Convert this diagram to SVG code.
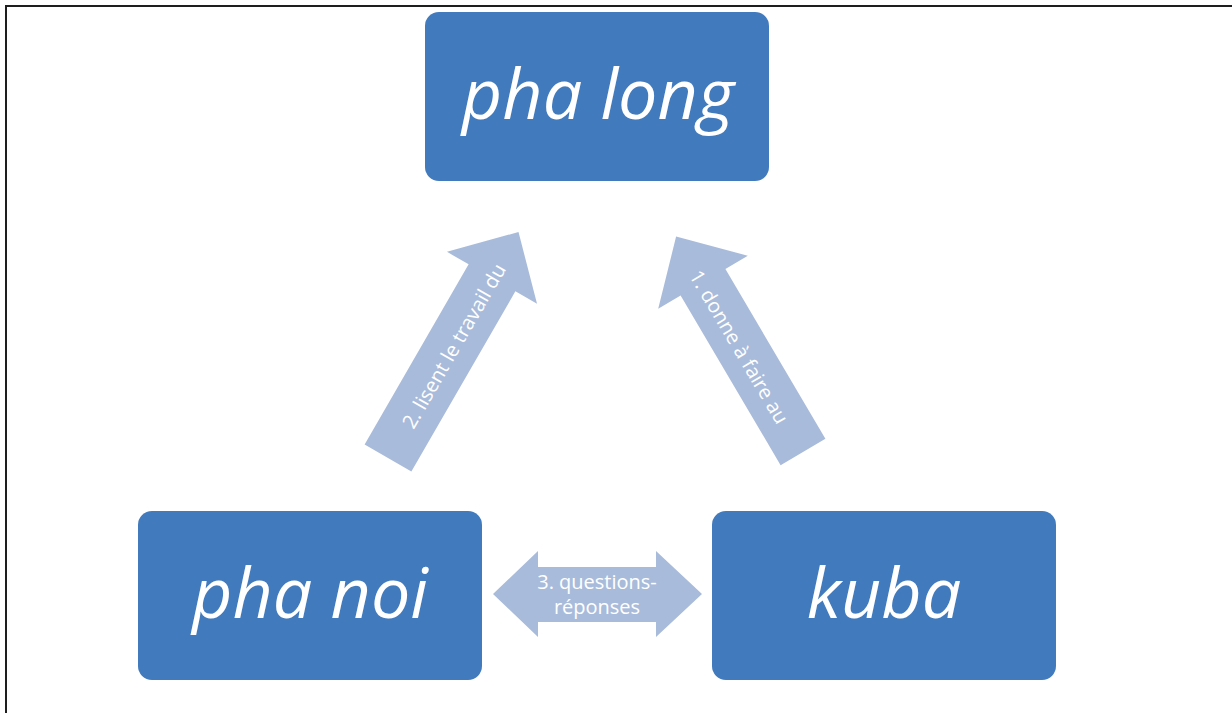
<svg xmlns="http://www.w3.org/2000/svg" width="1232" height="713" viewBox="0 0 1232 713">
<style>
.box{fill:#417abd}
.big{font-family:"Open Sans","Liberation Sans",sans-serif;font-style:italic;font-size:70px;fill:#fff;text-anchor:middle}
.arr{fill:#a9bbda}
.lbl{font-family:"Open Sans","Liberation Sans",sans-serif;font-size:20px;fill:#fff;text-anchor:middle}
</style>
<rect width="1232" height="713" fill="#fff"/>
<path d="M6 713 V6 H1232" fill="none" stroke="#1e1e1e" stroke-width="2"/>
<g id="connectors">
<g id="arrow-lisent">
<path class="arr" transform="translate(388,458) rotate(-60)" d="M0,-27 H208 V-52 L261,0 L208,52 V27 H0 Z"/>
<text class="lbl" transform="translate(454,346) rotate(-60)" y="7">2. lisent le travail du</text>
</g>
<g id="arrow-donne">
<path class="arr" transform="translate(803,452) rotate(-120.5)" d="M0,-26 H197 V-52 L250,0 L197,52 V26 H0 Z"/>
<text class="lbl" transform="translate(739,347) rotate(59.5)" y="7">1. donne à faire au</text>
</g>
<g id="arrow-questions">
<path class="arr" d="M493,594 L538,551 V567 H656 V551 L702,594 L656,637 V622 H538 V637 Z"/>
<text class="lbl" x="597" y="589">3. questions-</text>
<text class="lbl" x="597" y="614">réponses</text>
</g>
</g>
<g id="node-pha-long">
<rect class="box" x="425" y="12" width="344" height="169" rx="14"/>
<text class="big" x="598" y="119">pha long</text>
</g>
<g id="node-pha-noi">
<rect class="box" x="138" y="511" width="344" height="169" rx="14"/>
<text class="big" x="310" y="618">pha noi</text>
</g>
<g id="node-kuba">
<rect class="box" x="712" y="511" width="344" height="169" rx="14"/>
<text class="big" x="884" y="618">kuba</text>
</g>
</svg>
